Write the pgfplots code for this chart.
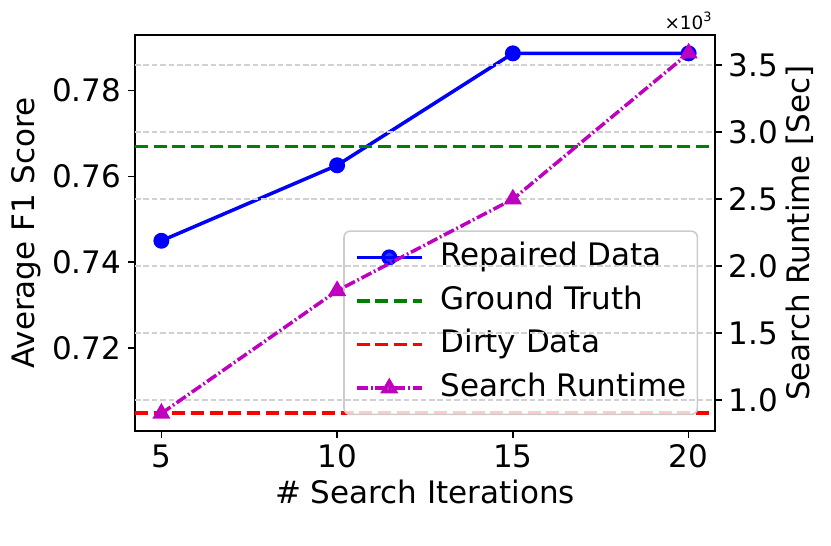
\documentclass[border=0pt]{standalone}
\usepackage{fontspec}
\setmainfont{DejaVu Sans}
\usepackage{pgfplots}
\pgfplotsset{compat=1.18}
\definecolor{mplgreen}{RGB}{0,128,0}
\definecolor{mplmagenta}{RGB}{191,0,191}
\definecolor{legendedge}{RGB}{204,204,204}

\pgfplotsset{
  twinbase/.style={
    scale only axis, width=290pt, height=198pt,
    xmin=4.25, xmax=20.75,
    tick align=outside, major tick length=3.4pt,
    axis line style={line width=0.85pt},
    every tick/.style={black, line width=0.8pt},
    /pgf/number format/assume math mode=true,
  },
  mlegend/.style={
    legend image code/.code={
      \draw[mark repeat=2,mark phase=2,##1] plot coordinates {(0pt,0pt) (16.25pt,0pt) (32.5pt,0pt)};}
  },
}

\begin{document}
\begin{tikzpicture}[font=\fontsize{15.5}{18}\selectfont]
\path[use as bounding box] (-67.5pt,-57.5pt) rectangle (348pt,215.5pt);

% left axis: F1 scores
\begin{axis}[
  twinbase,
  ymin=0.70065, ymax=0.79298,
  xtick={5,10,15,20}, ytick={0.72,0.74,0.76,0.78},
  xtick pos=left, ytick pos=left,
  yticklabel style={/pgf/number format/fixed, /pgf/number format/fixed zerofill,
    /pgf/number format/precision=2},
  xlabel={\# Search Iterations}, ylabel={Average F1 Score},
  xlabel style={at={(axis description cs:0.5,-0.154)}, anchor=center},
  ylabel style={at={(axis description cs:-0.188,0.5)}, anchor=center},
  mlegend,
  legend cell align=left,
  legend style={at={(0.971,0.040)}, anchor=south east,
    draw=legendedge, line width=0.8pt, fill=white, fill opacity=0.8, text opacity=1,
    rounded corners=3pt, inner xsep=5.5pt, inner ysep=6pt,
    row sep=7.6pt, column sep=0pt,
    nodes={inner sep=0pt, text height=11.2pt, text depth=3pt},
    font=\fontsize{15.5}{18}\selectfont},
]
\addplot[blue, line width=1.75pt, mark=*, mark size=3.1pt, mark options={solid}]
  coordinates {(5,0.7450) (10,0.7626) (15,0.7887) (20,0.7887)};
\addlegendentry{\hspace{8.5pt}Repaired Data}
\addplot[mplgreen, line width=1.75pt, dash pattern=on 6.5pt off 2.85pt]
  coordinates {(4.25,0.7670) (20.75,0.7670)};
\addlegendentry{\hspace{8.5pt}Ground Truth}
\addplot[red, line width=1.75pt, dash pattern=on 6.5pt off 2.85pt]
  coordinates {(4.25,0.7048) (20.75,0.7048)};
\addlegendentry{\hspace{8.5pt}Dirty Data}
\addlegendimage{mplmagenta, line width=1.75pt, dash pattern=on 5.6pt off 1.4pt on 0.9pt off 1.4pt,
  mark=triangle*, mark size=3.5pt, mark options={solid}}
\addlegendentry{\hspace{8.5pt}Search Runtime}
\end{axis}

% right axis: runtime in seconds
\begin{axis}[
  twinbase,
  ymin=769, ymax=3726,
  axis x line=none, axis y line*=right,
  ytick={1000,1500,2000,2500,3000,3500},
  scaled y ticks=base 10:-3,
  ytick scale label code/.code={×10\textsuperscript{3}},
  every y tick scale label/.style={at={(rel axis cs:1,1)}, anchor=south east,
    inner sep=1pt, yshift=1.5pt, font=\fontsize{9.2}{11}\selectfont},
  yticklabel style={/pgf/number format/fixed, /pgf/number format/fixed zerofill,
    /pgf/number format/precision=1},
  ymajorgrids,
  major grid style={black!18, line width=0.8pt, dash pattern=on 2.8pt off 1.4pt},
  ylabel={Search Runtime [Sec]},
  ylabel style={at={(axis description cs:1.1466,0.5)}, anchor=center},
]
\addplot[mplmagenta, line width=1.75pt, dash pattern=on 5.6pt off 1.4pt on 0.9pt off 1.4pt,
  mark=triangle*, mark size=3.5pt, mark options={solid}]
  coordinates {(5,900) (10,1816) (15,2500) (20,3590)};
\end{axis}
\end{tikzpicture}
\end{document}
